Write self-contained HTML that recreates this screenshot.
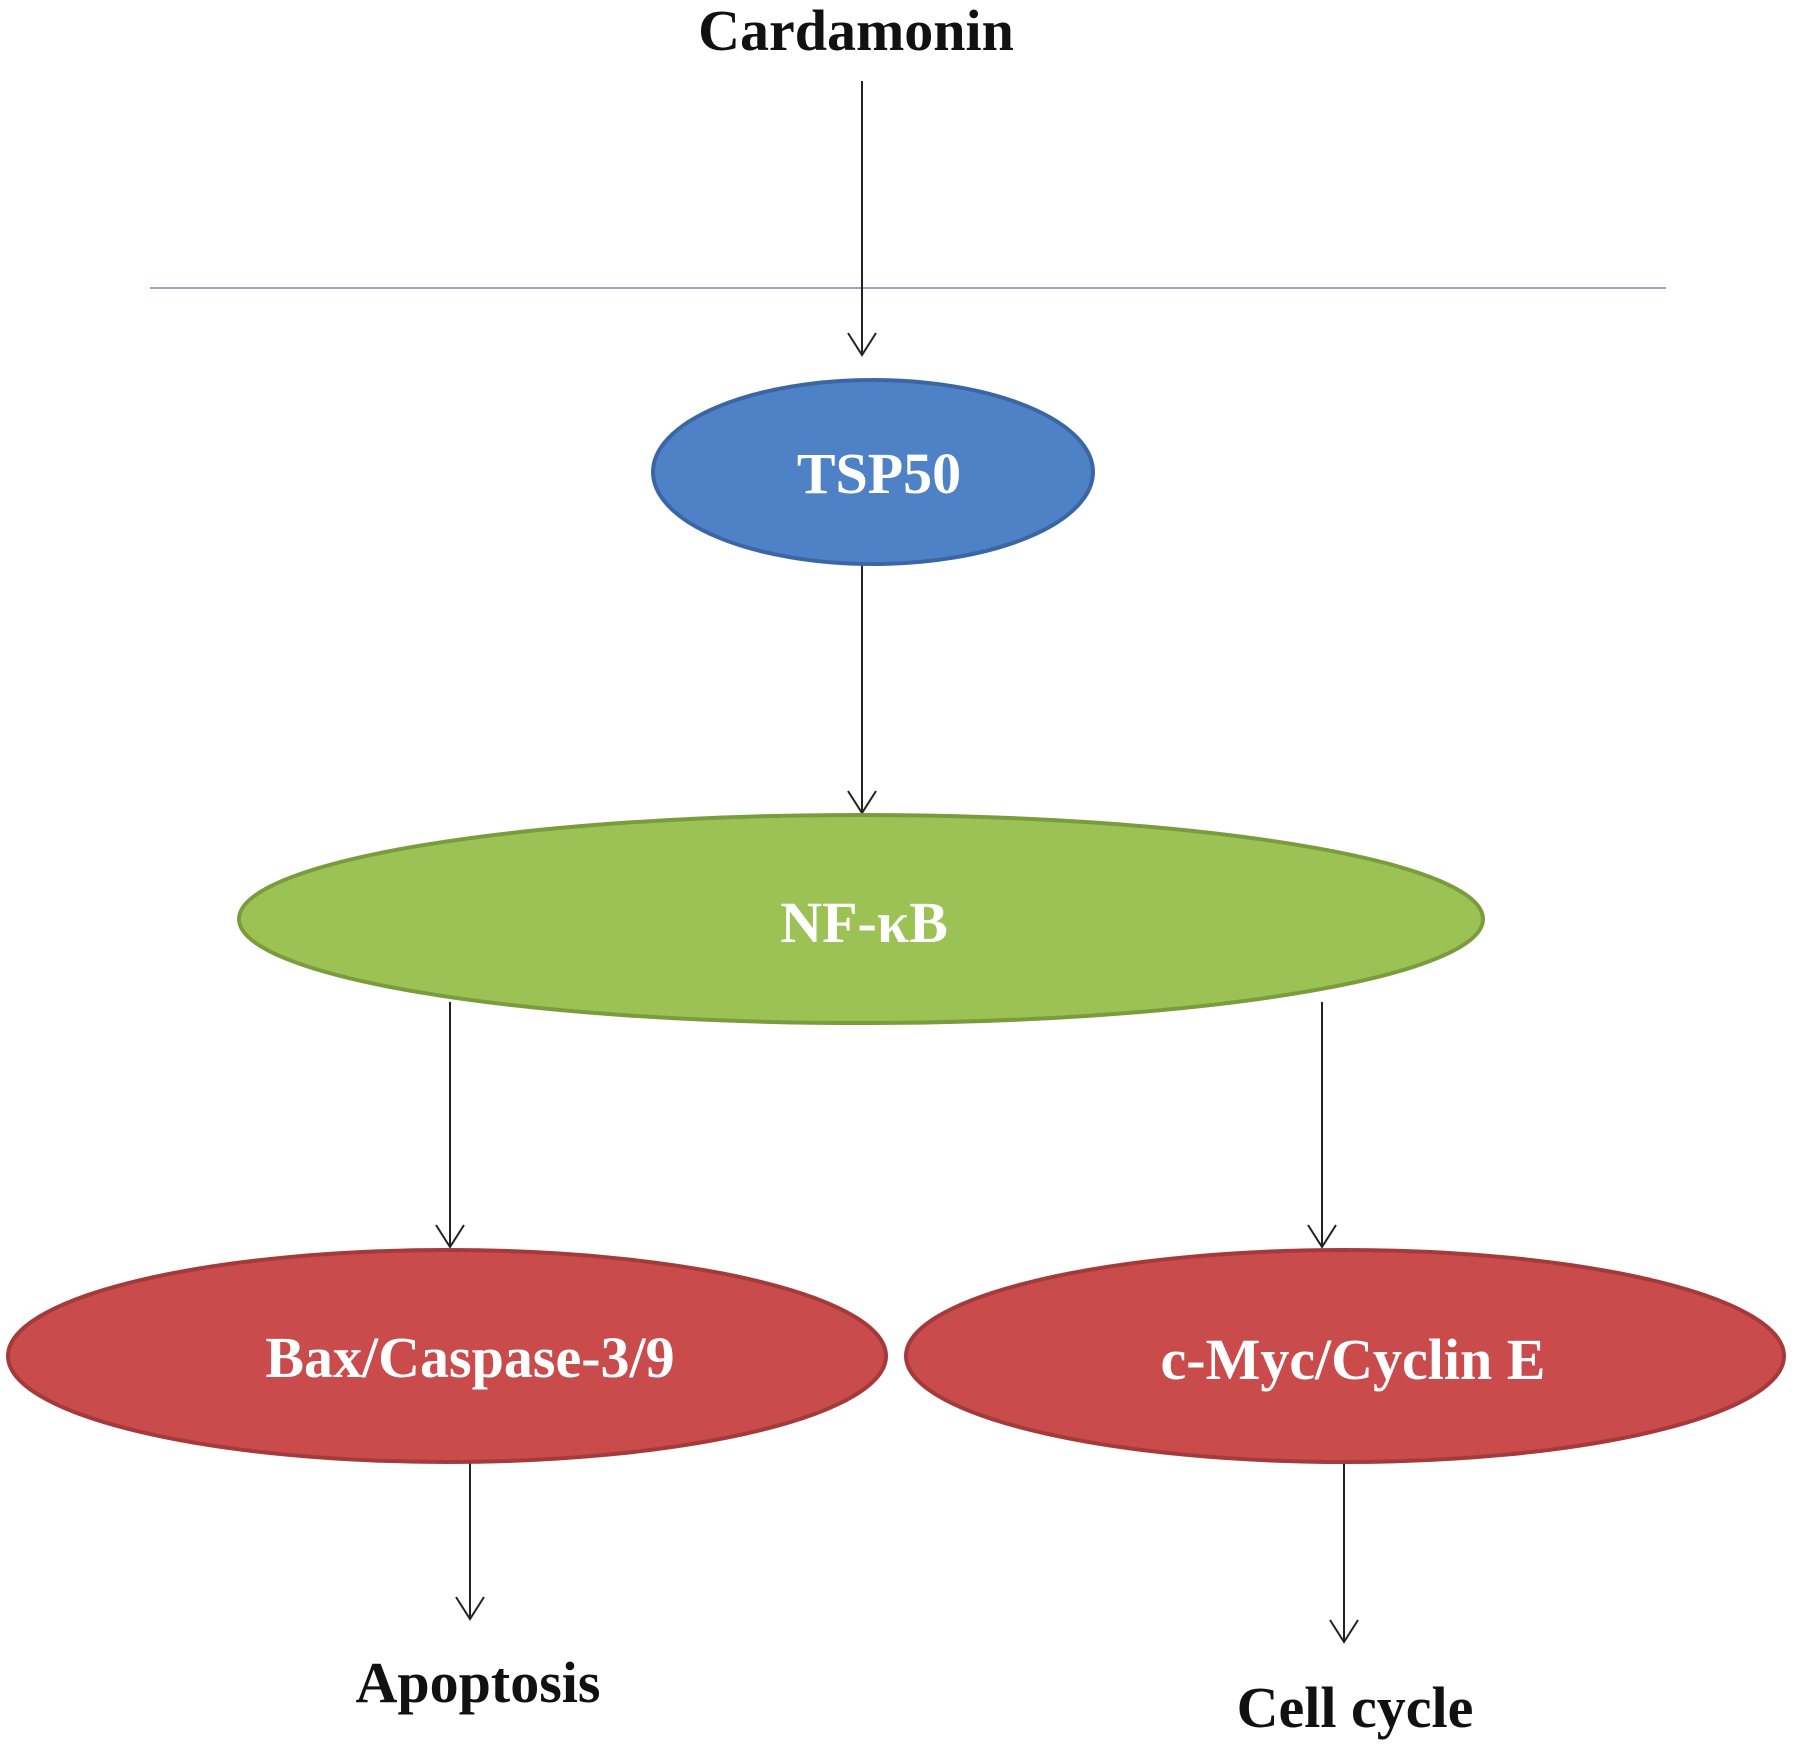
<!DOCTYPE html>
<html><head><meta charset="utf-8"><style>html,body{margin:0;padding:0;background:#fff}</style></head>
<body>
<svg width="1795" height="1744" viewBox="0 0 1795 1744" xmlns="http://www.w3.org/2000/svg" font-family="'Liberation Serif', serif" font-weight="bold" font-size="58">
<g transform="translate(-5,-2)">
<line x1="155" y1="290" x2="1671" y2="290" stroke="#95a9c4" stroke-width="2"/>
<g stroke="#222" stroke-width="2" fill="none">
<line x1="867" y1="83" x2="867" y2="357"/><polyline points="853,335 867,357 881,335"/>
<line x1="867" y1="566" x2="867" y2="815"/><polyline points="853,793 867,815 881,793"/>
<line x1="455" y1="1004" x2="455" y2="1249"/><polyline points="441,1227 455,1249 469,1227"/>
<line x1="1327" y1="1004" x2="1327" y2="1249"/><polyline points="1313,1227 1327,1249 1341,1227"/>
<line x1="475" y1="1464" x2="475" y2="1621"/><polyline points="461,1599 475,1621 489,1599"/>
<line x1="1349" y1="1464" x2="1349" y2="1644"/><polyline points="1335,1622 1349,1644 1363,1622"/>
</g>
<ellipse cx="878" cy="474" rx="220" ry="92" fill="#4f81c7" stroke="#3b66a6" stroke-width="4"/>
<ellipse cx="866" cy="921" rx="622" ry="104" fill="#9cc255" stroke="#7b9c3c" stroke-width="4"/>
<ellipse cx="452" cy="1358" rx="439" ry="106" fill="#c94b4b" stroke="#a53a3a" stroke-width="4"/>
<ellipse cx="1350" cy="1358" rx="439" ry="106" fill="#c94b4b" stroke="#a53a3a" stroke-width="4"/>
<g text-anchor="middle">
<text x="861" y="52" fill="#111">Cardamonin</text>
<text x="884" y="495" fill="#fff">TSP50</text>
<text x="869" y="944" fill="#fff">NF-κB</text>
<text x="475" y="1379" fill="#fff">Bax/Caspase-3/9</text>
<text x="1358" y="1381" fill="#fff">c-Myc/Cyclin E</text>
<text x="483" y="1704" fill="#111">Apoptosis</text>
<text x="1360" y="1729" fill="#111">Cell cycle</text>
</g>
</g>
</svg>
</body></html>
